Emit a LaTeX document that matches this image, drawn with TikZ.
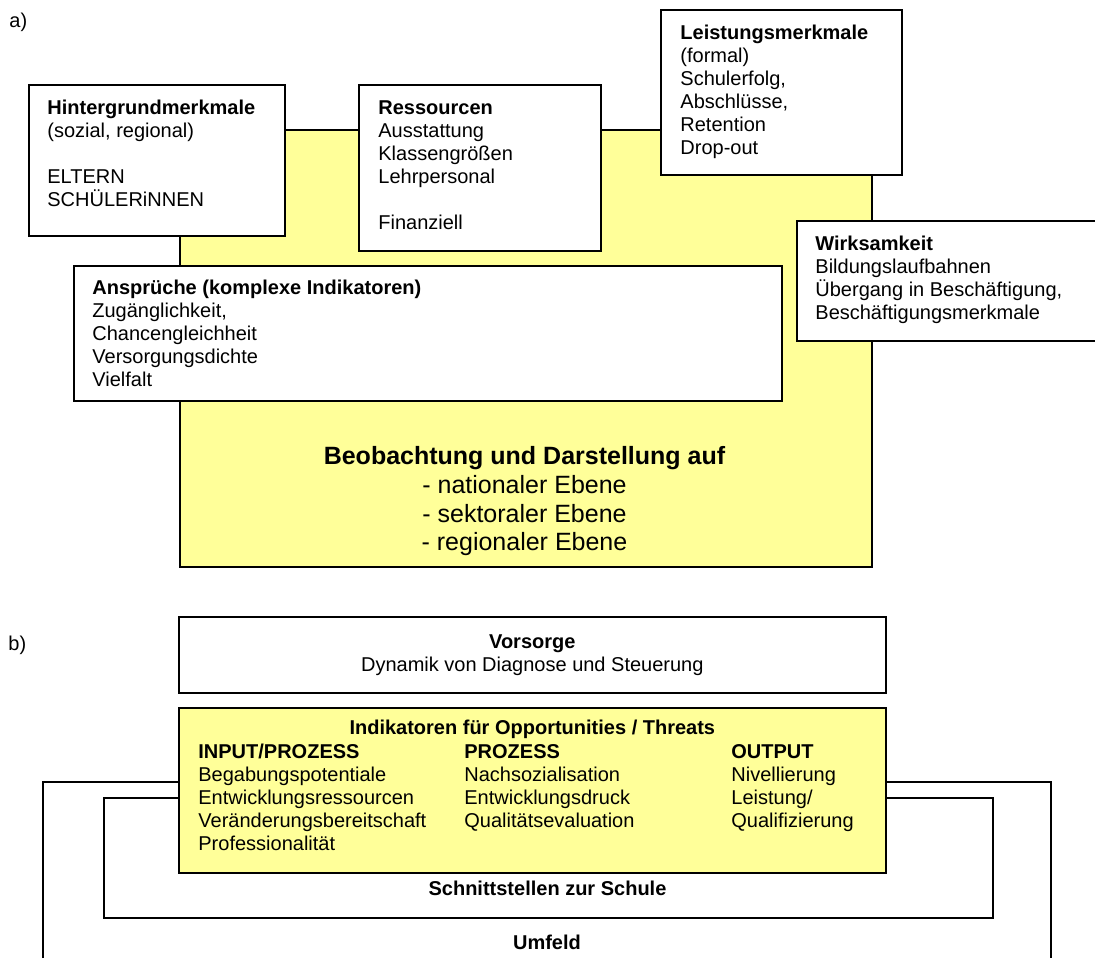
\documentclass[tikz,border=0pt]{standalone}
\usepackage{fontspec}
\setmainfont{Liberation Sans}
\usetikzlibrary{positioning}
\definecolor{mkYellow}{HTML}{FFFF99}
\tikzset{
  box/.style    = {draw=black, fill=white, line width=0.8pt, anchor=north west, inner sep=0pt},
  ybox/.style   = {box, fill=mkYellow},
  txt/.style    = {inner sep=0pt, align=left, font=\fontsize{10}{11.5}\selectfont},
  ctxt/.style   = {txt, align=center},
  bigtxt/.style = {ctxt, font=\fontsize{12.5}{14.4}\selectfont},
  frame/.style  = {line width=0.8pt, black},
}

\begin{document}
\begin{tikzpicture}[x=0.5pt, y=-0.5pt]
  \useasboundingbox (0,0) rectangle (1095,958);
  % a) indicator boxes around the observation field
  \node[txt, anchor=north west] (la) at (9,13) {a)};
  \node[ybox, minimum width=346pt, minimum height=218.5pt] (obs) at (179,129) {};
  \node[box, minimum width=128pt, minimum height=75.5pt] (hint) at (28,84) {};
  \node[box, minimum width=121pt, minimum height=83pt] (ress) at (358,84) {};
  \node[box, minimum width=120.5pt, minimum height=82.5pt] (leist) at (660,9) {};
  \node[box, minimum width=152pt, minimum height=60pt] (wirk) at (796,220) {};
  \node[box, minimum width=354pt, minimum height=67.5pt] (anspr) at (73,265) {};
  \node[txt, below right=8pt and 9.5pt of hint.north west] (hintT)
    {\textbf{Hintergrundmerkmale}\\(sozial, regional)\\[11.5pt]ELTERN\\SCHÜLERiNNEN};
  \node[txt, below right=8pt and 10pt of ress.north west] (ressT)
    {\textbf{Ressourcen}\\Ausstattung\\Klassengrößen\\Lehrpersonal\\[11.5pt]Finanziell};
  \node[txt, below right=8pt and 10pt of leist.north west] (leistT)
    {\textbf{Leistungsmerkmale}\\(formal)\\Schulerfolg,\\Abschlüsse,\\Retention\\Drop-out};
  \node[txt, below right=8pt and 9.5pt of wirk.north west] (wirkT)
    {\textbf{Wirksamkeit}\\Bildungslaufbahnen\\Übergang in Beschäftigung,\\Beschäftigungsmerkmale};
  \node[txt, below right=7.5pt and 9.5pt of anspr.north west] (ansprT)
    {\textbf{Ansprüche (komplexe Indikatoren)}\\Zugänglichkeit,\\Chancengleichheit\\Versorgungsdichte\\Vielfalt};
  \node[bigtxt, anchor=north] (obsT) at (524.5,446)
    {\textbf{Beobachtung und Darstellung auf}\\- nationaler Ebene\\- sektoraler Ebene\\- regionaler Ebene};

  % b) nested frames
  \node[txt, anchor=north west] (lb) at (8,636) {b)};
  \draw[frame] (43,958) |- (1051,782) -- (1051,958);
  \node[box, minimum width=444.5pt, minimum height=60pt] (schnitt) at (103,797) {};
  \node[box, minimum width=353.5pt, minimum height=38pt, align=center,
        font=\fontsize{10}{11.5}\selectfont] (vors) at (178,616)
    {\textbf{Vorsorge}\\Dynamik von Diagnose und Steuerung};
  \node[ybox, minimum width=353.5pt, minimum height=82.5pt] (indik) at (178,707) {};
  \node[ctxt, below=6.5pt of indik.north] (indT) {\textbf{Indikatoren für Opportunities / Threats}};
  \node[txt, anchor=north west] (colIn) at (198,744)
    {\textbf{INPUT/PROZESS}\\Begabungspotentiale\\Entwicklungsressourcen\\Veränderungsbereitschaft\\Professionalität};
  \node[txt, anchor=north west] (colPr) at (464,744)
    {\textbf{PROZESS}\\Nachsozialisation\\Entwicklungsdruck\\Qualitätsevaluation};
  \node[txt, anchor=north west] (colOut) at (731,744)
    {\textbf{OUTPUT}\\Nivellierung\\Leistung/\\Qualifizierung};
  \node[txt, anchor=base] (schnittT) at (547.5,895) {\textbf{Schnittstellen zur Schule}};
  \node[txt, anchor=base] (umfT) at (547,949) {\textbf{Umfeld}};
\end{tikzpicture}
\end{document}
